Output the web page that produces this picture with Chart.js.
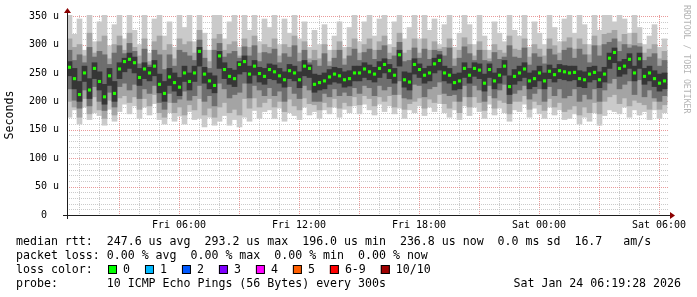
<!DOCTYPE html>
<html>
<head>
<meta charset="utf-8">
<script src="https://cdn.jsdelivr.net/npm/chart.js@4"></script>
<style>
  html, body { margin: 0; padding: 0; background: #fff; }
  canvas { display: block; }
</style>
</head>
<body>
<canvas id="c" width="697" height="297"></canvas>
<script>
// time axis: hours since Fri 00:00, one step every 15 minutes
const firstStep = 0.525;
const stepHours = 0.25;

// median rtt (microseconds)
const median = [
  260,240,212,250,220,258,235,208,245,214, 257,270,274,268,242,257,250,262,230,214,
  243,233,225,250,235,250,288,248,236,228, 280,256,244,240,265,270,248,262,249,244,
  256,252,245,238,254,250,238,262,258,230, 233,236,243,248,245,238,240,250,250,257,
  252,248,258,265,254,246,282,238,234,265, 256,246,250,266,272,250,246,233,236,258,
  246,258,255,232,256,236,246,262,226,244, 250,257,236,240,250,236,253,247,254,252,
  250,251,240,238,248,251,238,248,276,286, 258,262,274,250,275,244,250,240,232,236
];

// smoke bands: ping spread per step, outermost (min/max) to innermost
const hi1 = [
  352,318,345,290,352,305,340,352,298,335, 352,310,352,325,300,352,285,345,352,315,
  340,295,352,330,352,305,352,320,290,352, 352,310,340,352,295,352,325,352,305,345,
  330,352,300,345,320,352,310,340,295,325, 300,335,290,315,340,295,330,352,305,340,
  352,315,345,352,300,340,352,310,330,352, 310,352,325,345,300,335,352,295,320,352,
  335,300,352,315,290,340,320,305,352,325, 315,352,295,340,320,300,352,330,305,345,
  352,320,352,335,300,352,325,352,352,340, 352,345,320,352,330,300,315,335,295,310
];
const lo1 = [
  172,185,160,190,168,180,175,158,186,165, 182,195,178,192,170,190,176,196,168,160,
  180,165,174,160,182,168,170,155,172,158, 165,175,158,168,155,172,165,184,170,182,
  185,170,188,165,180,175,168,190,176,182, 170,185,178,190,172,186,180,192,178,195,
  185,176,195,182,192,178,188,170,185,180, 192,175,190,182,196,180,172,185,168,192,
  175,190,182,170,195,176,188,180,165,185, 182,195,172,188,178,170,190,176,185,168,
  170,178,160,172,165,180,158,175,185,182, 178,190,172,185,176,182,168,185,170,180
];
const hi2 = [
  310,295,300,280,320,285,305,315,275,300, 315,290,320,295,280,310,270,305,315,290,
  300,275,310,300,305,285,325,290,270,310, 318,290,300,305,280,310,295,315,285,300,
  295,310,280,300,295,315,285,305,275,290, 275,300,270,290,305,275,295,310,285,300,
  310,290,305,315,285,295,320,285,290,310, 285,310,290,305,292,295,310,275,290,312,
  300,280,305,290,275,300,290,285,315,292, 290,310,278,300,292,280,310,298,285,305,
  312,292,310,300,282,315,298,318,320,325, 305,318,300,320,302,285,292,300,275,288
];
const lo2 = [
  200,190,172,205,178,208,185,170,202,176, 206,210,198,208,186,205,192,212,180,172,
  198,180,190,176,194,185,205,176,188,172, 190,198,180,186,176,205,188,206,190,198,
  205,190,200,182,204,192,185,206,196,194, 185,198,190,205,188,198,192,208,194,210,
  205,192,208,200,210,190,212,186,196,200, 206,188,204,198,212,196,188,200,180,208,
  190,208,198,184,210,188,202,198,178,200, 200,210,186,200,194,184,205,190,198,182,
  186,192,176,190,180,198,178,200,208,212, 196,206,192,202,198,194,186,200,186,194
];
const hi3 = [
  290,272,282,268,295,278,288,282,265,285, 298,284,302,288,266,292,264,290,282,256,
  282,262,290,286,280,272,308,276,258,290, 302,278,284,288,276,296,280,298,270,286,
  284,292,268,284,278,298,270,290,268,272, 262,284,262,276,290,264,280,292,272,286,
  292,274,290,298,274,280,304,270,272,294, 276,292,274,290,288,280,294,262,276,296,
  284,272,290,272,270,286,274,278,298,278, 276,294,264,284,278,266,292,282,272,290,
  294,276,292,282,268,298,280,300,304,310, 288,300,294,298,296,272,278,284,262,272
];
const lo3 = [
  222,202,188,220,192,226,200,184,216,190, 226,232,220,230,205,222,214,228,198,186,
  214,198,204,218,202,210,228,200,210,192, 232,222,206,212,216,232,206,228,220,210,
  224,210,218,200,226,214,205,228,220,200, 200,214,208,222,210,216,210,224,214,228,
  224,210,228,220,226,212,236,206,204,230, 228,208,222,226,234,214,210,212,200,228,
  208,228,220,200,228,206,220,230,196,214, 220,228,204,214,222,200,226,210,222,206,
  210,222,200,212,204,222,200,220,232,240, 222,230,236,212,238,208,220,206,200,210
];
const hi4 = [
  270,258,235,262,240,268,252,230,258,235, 268,276,285,278,258,268,260,272,248,235,
  258,250,242,262,250,262,295,260,250,245, 288,268,258,255,270,280,262,272,260,258,
  266,264,258,252,265,262,252,272,264,248, 246,250,256,260,258,252,254,262,262,268,
  264,260,270,275,265,258,290,252,250,275, 266,258,262,276,282,262,258,248,250,268,
  258,268,266,248,266,250,258,272,245,256, 262,268,250,254,262,250,264,258,265,263,
  262,262,254,252,260,262,252,260,285,294, 270,274,284,262,285,258,262,254,248,250
];
const lo4 = [
  245,222,200,235,205,240,220,195,228,200, 240,252,258,250,228,240,236,245,215,200,
  228,218,210,235,220,235,262,232,222,215, 258,240,230,226,248,252,232,246,234,230,
  240,238,232,225,240,236,224,245,242,216, 220,222,230,234,232,225,227,236,236,242,
  238,234,242,250,240,232,262,225,220,248, 242,232,236,250,255,236,232,220,222,242,
  232,244,240,218,242,222,232,246,212,230, 236,242,222,226,236,222,240,234,240,238,
  236,238,226,224,234,238,224,234,258,268, 244,248,258,236,258,230,236,226,218,222
];

const xTickHours = [6, 12, 18, 24, 30];
const xTickLabels = ['Fri 06:00', 'Fri 12:00', 'Fri 18:00', 'Sat 00:00', 'Sat 06:00'];
const yTickValues = [0, 50, 100, 150, 200, 250, 300, 350];
const yTickLabels = ['0  ', '50 u', '100 u', '150 u', '200 u', '250 u', '300 u', '350 u'];

const statsLine = 'median rtt:  247.6 us avg  293.2 us max  196.0 us min  236.8 us now  0.0 ms sd  16.7   am/s';
const lossLine = 'packet loss: 0.00 % avg  0.00 % max  0.00 % min  0.00 % now';
const probeLine = 'probe:       10 ICMP Echo Pings (56 Bytes) every 300s';
const stampText = 'Sat Jan 24 06:19:28 2026';
const lossLabels = ['0', '1', '2', '3', '4', '5', '6-9', '10/10'];
const lossColors = ['#00ff00', '#00b8ff', '#0059ff', '#7f00ff', '#ff00ff', '#ff5f00', '#ff0000', '#a00000'];

const MONO = '"DejaVu Sans Mono", monospace';
const times = median.map((_, i) => firstStep + i * stepHours);
const band = (lo, hi) => times.map((t, i) => ({ x: t, y: [lo[i], hi[i]] }));

const smokeDataset = (lo, hi, color, order) => ({
  type: 'bar',
  data: band(lo, hi),
  backgroundColor: color,
  borderWidth: 0,
  grouped: false,
  barPercentage: 1,
  categoryPercentage: 1,
  order: order,
});

const background = {
  id: 'background',
  beforeDraw(chart) {
    const ctx = chart.ctx;
    ctx.save();
    ctx.fillStyle = '#ffffff';
    ctx.fillRect(0, 0, chart.width, chart.height);
    ctx.restore();
  },
};

// rrdtool style dotted grid behind the smoke
const dottedGrid = {
  id: 'dottedGrid',
  beforeDatasetsDraw(chart) {
    const { ctx, chartArea: a, scales: { x, y } } = chart;
    ctx.save();
    ctx.lineWidth = 1;
    ctx.setLineDash([1, 1]);
    for (let h = 1; h <= 30; h++) {
      const px = Math.round(x.getPixelForValue(h)) + 0.5;
      ctx.strokeStyle = h % 3 === 0 ? 'rgba(225,120,120,0.75)' : 'rgba(185,185,185,0.75)';
      ctx.beginPath();
      ctx.moveTo(px, a.top);
      ctx.lineTo(px, a.bottom);
      ctx.stroke();
    }
    for (let v = 10; v <= 350; v += 10) {
      const py = Math.round(y.getPixelForValue(v)) + 0.5;
      ctx.strokeStyle = v % 50 === 0 ? 'rgba(225,120,120,0.75)' : 'rgba(185,185,185,0.75)';
      ctx.beginPath();
      ctx.moveTo(a.left, py);
      ctx.lineTo(a.right, py);
      ctx.stroke();
    }
    ctx.restore();
  },
};

const axesAndText = {
  id: 'axesAndText',
  afterDraw(chart) {
    const { ctx, chartArea: a } = chart;
    ctx.save();
    // axes
    ctx.fillStyle = '#1e1e1e';
    ctx.fillRect(a.left - 4, a.bottom, a.right - a.left + 6, 1);
    ctx.fillRect(a.left, a.top - 4, 1, a.bottom - a.top + 8);
    ctx.fillStyle = '#8b0000';
    ctx.beginPath();
    ctx.moveTo(a.right + 2, a.bottom - 3);
    ctx.lineTo(a.right + 7, a.bottom + 0.5);
    ctx.lineTo(a.right + 2, a.bottom + 4);
    ctx.closePath();
    ctx.fill();
    ctx.beginPath();
    ctx.moveTo(a.left - 3, a.top - 2);
    ctx.lineTo(a.left + 0.5, a.top - 7);
    ctx.lineTo(a.left + 4, a.top - 2);
    ctx.closePath();
    ctx.fill();

    // watermark
    ctx.save();
    ctx.translate(682, 5);
    ctx.rotate(Math.PI / 2);
    ctx.font = '8.2px ' + MONO;
    ctx.fillStyle = '#b4b4b4';
    ctx.textBaseline = 'middle';
    ctx.textAlign = 'left';
    ctx.fillText('RRDTOOL / TOBI OETIKER', 0, -4);
    ctx.restore();

    // legend block
    ctx.font = '11.6px ' + MONO;
    ctx.fillStyle = '#000';
    ctx.textBaseline = 'middle';
    ctx.textAlign = 'left';
    ctx.fillText(statsLine, 16, 241.5);
    ctx.fillText(lossLine, 16, 255.5);
    ctx.fillText('loss color:', 16, 269.5);
    ctx.fillText(probeLine, 16, 283.5);
    ctx.textAlign = 'right';
    ctx.fillText(stampText, 681, 283.5);
    ctx.textAlign = 'left';
    let bx = 108;
    lossLabels.forEach((lab, i) => {
      ctx.fillStyle = lossColors[i];
      ctx.fillRect(bx, 265, 9, 9);
      ctx.strokeStyle = '#000';
      ctx.lineWidth = 1;
      ctx.strokeRect(bx + 0.5, 265.5, 8, 8);
      ctx.fillStyle = '#000';
      ctx.fillText(lab, bx + 15, 269.5);
      bx += 15 + ctx.measureText(lab).width + 15;
    });
    ctx.restore();
  },
};

new Chart(document.getElementById('c'), {
  type: 'bar',
  data: {
    datasets: [
      {
        type: 'line',
        data: times.map((t, i) => ({ x: t, y: median[i] })),
        showLine: false,
        pointStyle: 'rect',
        pointRadius: 2.2,
        pointBorderWidth: 0,
        pointBackgroundColor: '#22ff00',
        order: 0,
      },
      smokeDataset(lo4, hi4, '#363636', 1),
      smokeDataset(lo3, hi3, '#6e6e6e', 2),
      smokeDataset(lo2, hi2, '#a4a4a4', 3),
      smokeDataset(lo1, hi1, '#cacaca', 4),
    ],
  },
  options: {
    responsive: false,
    animation: false,
    devicePixelRatio: 1,
    layout: { padding: { top: 15, right: 29, left: 0, bottom: 0 } },
    plugins: { legend: { display: false }, tooltip: { enabled: false } },
    scales: {
      x: {
        type: 'linear',
        min: 0.4,
        max: 30.45,
        offset: false,
        grid: { display: false, drawTicks: false },
        border: { display: false },
        afterBuildTicks: (s) => { s.ticks = xTickHours.map((v) => ({ value: v })); },
        afterFit: (s) => { s.height = 82; },
        ticks: {
          callback: (v, i) => xTickLabels[i],
          font: { family: MONO, size: 10 },
          color: '#000',
          padding: 4,
          maxRotation: 0,
          autoSkip: false,
        },
      },
      y: {
        min: 0,
        max: 352,
        grid: { display: false, drawTicks: false },
        border: { display: false },
        afterBuildTicks: (s) => { s.ticks = yTickValues.map((v) => ({ value: v })); },
        afterFit: (s) => { s.width = 67; },
        ticks: {
          callback: (v, i) => yTickLabels[i],
          font: { family: MONO, size: 10 },
          color: '#000',
          padding: 8,
        },
        title: {
          display: true,
          text: 'Seconds',
          font: { family: MONO, size: 11.6 },
          color: '#000',
          padding: { top: 3, bottom: 0 },
        },
      },
    },
  },
  plugins: [background, dottedGrid, axesAndText],
});
</script>
</body>
</html>
